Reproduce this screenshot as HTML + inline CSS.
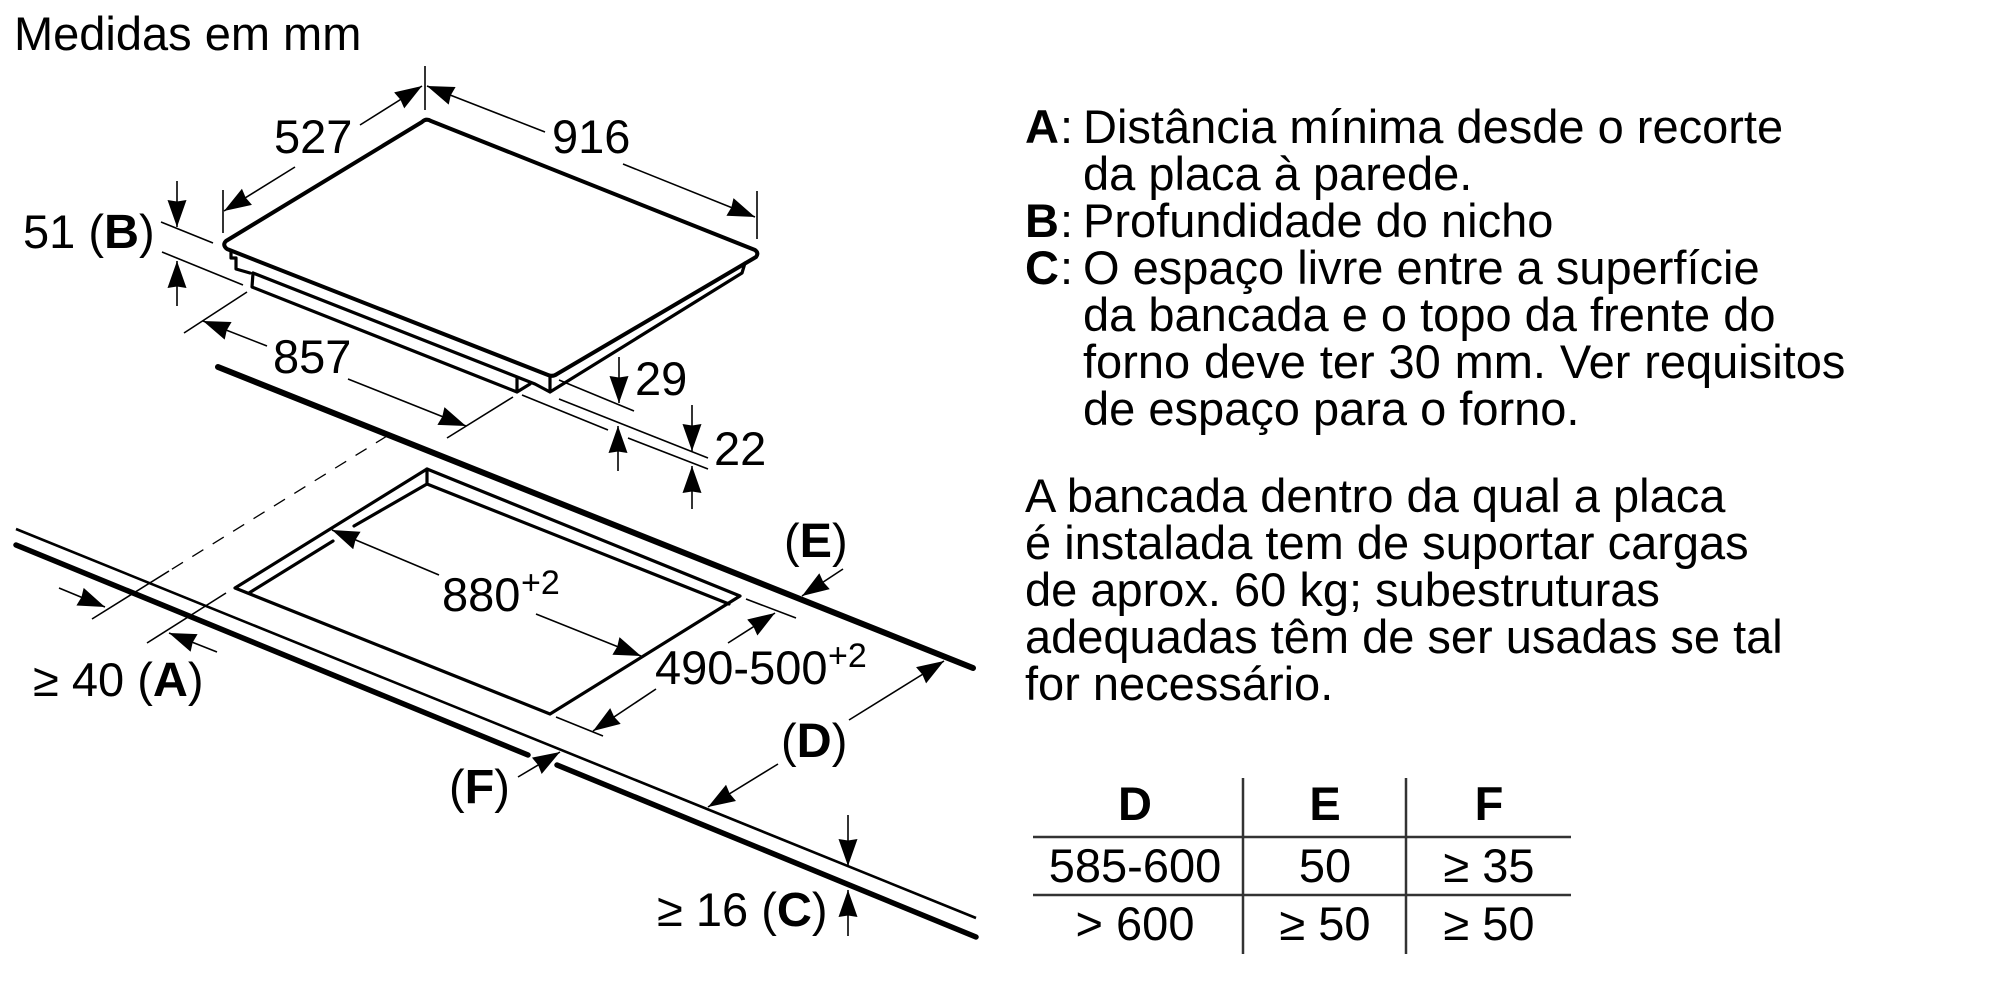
<!DOCTYPE html>
<html><head><meta charset="utf-8"><style>
html,body{margin:0;padding:0;background:#fff}
svg{display:block}
text{font-family:"Liberation Sans",sans-serif;font-size:47px;fill:#000}
.b{font-weight:bold}
.l{font-size:48.5px}
.s{font-size:34px}
.t{stroke:#000;stroke-width:1.6;fill:none}
.a{stroke:#000;stroke-width:1.6;fill:none;marker-end:url(#m)}
.h{stroke:#000;stroke-width:3.2;fill:none;stroke-linejoin:round;stroke-linecap:round}
.k{stroke:#000;stroke-width:6;fill:none;stroke-linecap:round}
.g{stroke:#333;stroke-width:2.5;fill:none}
.c{text-anchor:middle}
</style></head><body>
<svg width="2000" height="1000" viewBox="0 0 2000 1000" xmlns="http://www.w3.org/2000/svg">
<defs><marker id="m" markerUnits="userSpaceOnUse" markerWidth="30" markerHeight="22" refX="27" refY="11" orient="auto"><path d="M27,11 L0,1.5 L1.5,11 L0,20.5z" fill="#000"/></marker></defs>
<rect width="2000" height="1000" fill="#fff"/>

<text x="14" y="50">Medidas em mm</text>

<!-- hob -->
<path class="h" style="stroke-width:4" d="M422,122 Q426,118 431,121 L755,250 Q759,253 756,257 L557,374 Q553,377 548,375 L227,249 Q222,245 226,241 Z"/>
<path class="h" d="M231,251 V258 H236 V269 L250,273 M253,273 L535,384 L550,392 V377 M253,273 L252,287 L517,392 V378 M517,392 L530,384 M550,392 L742,273 L745,263"/>

<!-- dims top -->
<line class="t" x1="425" y1="66" x2="425" y2="110"/>
<line class="a" x1="360" y1="125" x2="422" y2="86"/>
<line class="a" x1="295" y1="167" x2="224" y2="211"/>
<line class="t" x1="223" y1="190" x2="223" y2="233"/>
<line class="a" x1="545" y1="132" x2="427" y2="86"/>
<line class="a" x1="623" y1="164" x2="755" y2="217"/>
<line class="t" x1="757" y1="191" x2="757" y2="239"/>
<text x="274" y="153">527</text>
<text x="552" y="153">916</text>

<!-- 51 B -->
<line class="a" x1="177" y1="181" x2="177" y2="227"/>
<line class="a" x1="177" y1="306" x2="177" y2="261"/>
<line class="t" x1="161" y1="222" x2="213" y2="243"/>
<line class="t" x1="162" y1="252" x2="243" y2="285"/>
<text x="23" y="248">51 (<tspan class="b l">B</tspan>)</text>

<!-- 857 -->
<line class="t" x1="247" y1="292" x2="184" y2="333"/>
<line class="a" x1="267" y1="346" x2="203" y2="321"/>
<line class="t" x1="513" y1="397" x2="447" y2="438"/>
<line class="a" x1="348" y1="379" x2="466" y2="426"/>
<text x="273" y="373">857</text>

<!-- 29 / 22 -->
<line class="t" x1="559" y1="380" x2="634" y2="411"/>
<line class="t" x1="559" y1="399" x2="708" y2="458"/>
<line class="t" x1="522" y1="395" x2="608" y2="430"/>
<line class="t" x1="628" y1="438" x2="708" y2="469"/>
<line class="a" x1="619" y1="357" x2="619" y2="403"/>
<line class="a" x1="618" y1="471" x2="618" y2="426"/>
<line class="a" x1="692" y1="405" x2="692" y2="451"/>
<line class="a" x1="692" y1="509" x2="692" y2="466"/>
<text x="635" y="395">29</text>
<text x="714" y="465">22</text>

<!-- countertop -->
<line class="k" x1="218" y1="367" x2="973" y2="668"/>
<line class="t" x1="387" y1="436" x2="169" y2="571" stroke-dasharray="13 11" style="stroke-width:1.3"/>
<line class="t" x1="169" y1="571" x2="92" y2="619"/>
<line x1="16" y1="529" x2="976" y2="918" stroke="#000" stroke-width="2.6"/>
<line class="k" x1="16" y1="545" x2="528" y2="755" style="stroke-width:5.5"/>
<line class="k" x1="557" y1="765" x2="976" y2="937" style="stroke-width:5.5"/>

<!-- cutout -->
<path class="h" d="M427,469 L235,588 L550,714 L740,596 Z"/>
<path class="h" d="M427,469 V484 L729,604 M427,484 L354,526 M333,541 L249,593"/>

<!-- 880 -->
<line class="a" x1="439" y1="575" x2="332" y2="530"/>
<line class="a" x1="536" y1="614" x2="641" y2="656"/>
<text x="442" y="611">880</text><text class="s" x="521" y="594">+2</text>

<!-- 490 -->
<line class="t" x1="746" y1="599" x2="796" y2="618"/>
<line class="a" x1="728" y1="643" x2="775" y2="613"/>
<line class="t" x1="556" y1="717" x2="603" y2="736"/>
<line class="a" x1="656" y1="689" x2="593" y2="731"/>
<text x="655" y="684">490-500</text><text class="s" x="828" y="667">+2</text>

<!-- E -->
<line class="a" x1="843" y1="569" x2="802" y2="596"/>
<text x="784" y="557">(<tspan class="b l">E</tspan>)</text>

<!-- D -->
<line class="a" x1="849" y1="720" x2="944" y2="661"/>
<line class="a" x1="778" y1="764" x2="708" y2="807"/>
<text x="781" y="757">(<tspan class="b l">D</tspan>)</text>

<!-- F -->
<line class="a" x1="518" y1="777" x2="560" y2="752"/>
<text x="449" y="803">(<tspan class="b l">F</tspan>)</text>

<!-- C -->
<line class="a" x1="848" y1="815" x2="848" y2="866"/>
<line class="a" x1="848" y1="936" x2="848" y2="890"/>
<text x="657" y="926">≥ 16 (<tspan class="b l">C</tspan>)</text>

<!-- A -->
<line class="a" x1="59" y1="588" x2="105" y2="607"/>
<line class="t" x1="226" y1="593" x2="147" y2="643"/>
<line class="a" x1="217" y1="652" x2="169" y2="633"/>
<text x="33" y="696">≥ 40 (<tspan class="b l">A</tspan>)</text>

<!-- right text -->
<text class="b" x="1025" y="143">A</text><text x="1060" y="143">:</text><text x="1083" y="143">Distância mínima desde o recorte</text>
<text x="1083" y="190">da placa à parede.</text>
<text class="b" x="1025" y="237">B</text><text x="1060" y="237">:</text><text x="1083" y="237">Profundidade do nicho</text>
<text class="b" x="1025" y="284">C</text><text x="1060" y="284">:</text><text x="1083" y="284">O espaço livre entre a superfície</text>
<text x="1083" y="331">da bancada e o topo da frente do</text>
<text x="1083" y="378" style="word-spacing:.8px">forno deve ter 30 mm. Ver requisitos</text>
<text x="1083" y="425">de espaço para o forno.</text>
<text x="1025" y="512">A bancada dentro da qual a placa</text>
<text x="1025" y="559">é instalada tem de suportar cargas</text>
<text x="1025" y="606">de aprox. 60 kg; subestruturas</text>
<text x="1025" y="653">adequadas têm de ser usadas se tal</text>
<text x="1025" y="700">for necessário.</text>

<!-- table -->
<line class="g" x1="1033" y1="837" x2="1571" y2="837"/>
<line class="g" x1="1033" y1="895" x2="1571" y2="895"/>
<line class="g" x1="1243" y1="778" x2="1243" y2="954"/>
<line class="g" x1="1406" y1="778" x2="1406" y2="954"/>
<text class="b c" x="1135" y="820">D</text><text class="b c" x="1325" y="820">E</text><text class="b c" x="1489" y="820">F</text>
<text class="c" x="1135" y="882">585-600</text><text class="c" x="1325" y="882">50</text><text class="c" x="1489" y="882">≥ 35</text>
<text class="c" x="1135" y="940">&gt; 600</text><text class="c" x="1325" y="940">≥ 50</text><text class="c" x="1489" y="940">≥ 50</text>
</svg>
</body></html>
